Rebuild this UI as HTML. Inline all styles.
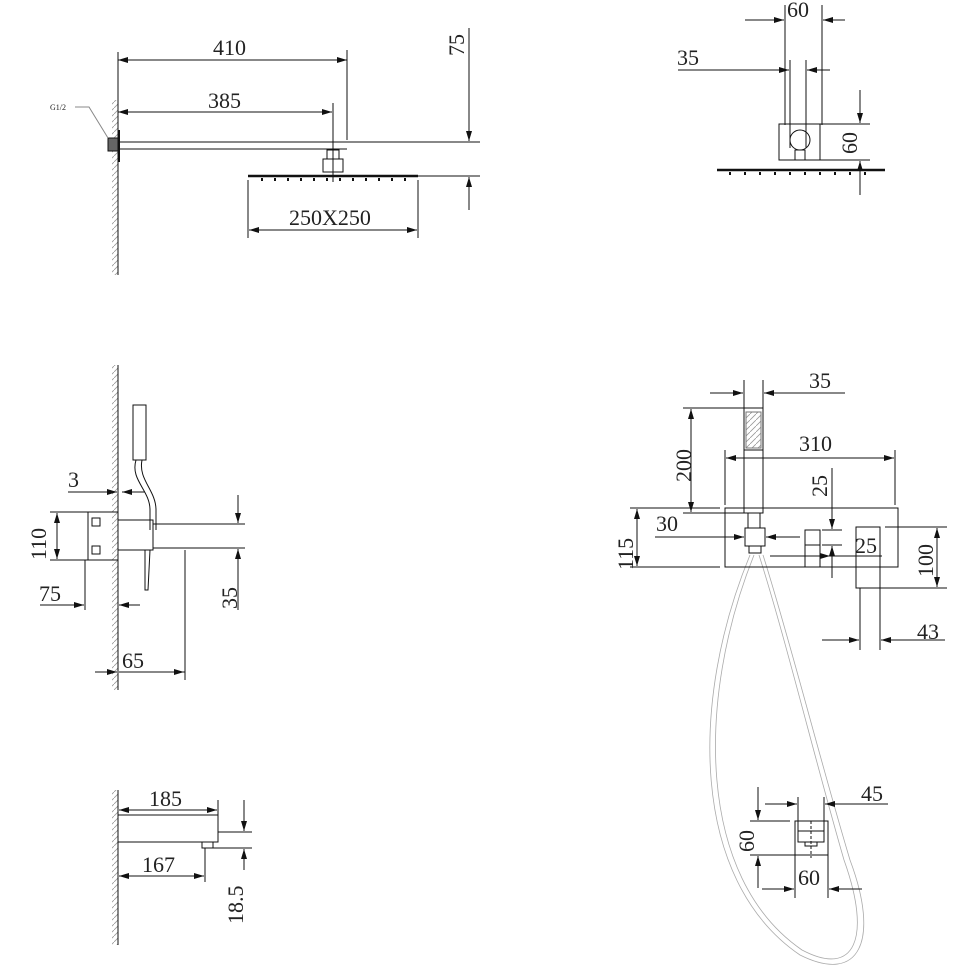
<!DOCTYPE html>
<html><head><style>html,body{margin:0;padding:0;background:#fff}svg{display:block}text{font-family:"Liberation Serif",serif;fill:#222}</style></head>
<body>
<svg width="974" height="974" viewBox="0 0 974 974" xmlns="http://www.w3.org/2000/svg">
<defs>
<marker id="a" viewBox="0 0 10 6" refX="10" refY="3" markerWidth="10" markerHeight="6" orient="auto-start-reverse" markerUnits="userSpaceOnUse">
<path d="M0,0 L10,3 L0,6z" fill="#111"/></marker>
<pattern id="h" width="6" height="6" patternUnits="userSpaceOnUse"><path d="M0,6 L6,0" stroke="#999" stroke-width="0.8"/></pattern>
</defs>
<g stroke="#111" stroke-width="1" fill="none">
<rect x="112" y="100" width="6" height="175" fill="url(#h)" stroke="none"/>
<line x1="118" y1="52" x2="118" y2="275"/>
<line x1="118" y1="60" x2="347" y2="60" marker-start="url(#a)" marker-end="url(#a)"/>
<line x1="347" y1="50" x2="347" y2="140"/>
<line x1="118" y1="112" x2="332" y2="112" marker-start="url(#a)" marker-end="url(#a)"/>
<line x1="333" y1="103" x2="333" y2="182"/>
<line x1="118" y1="142" x2="480" y2="142"/>
<line x1="118" y1="149" x2="347" y2="149"/>
<rect x="108" y="138" width="10" height="13" fill="#666"/>
<line x1="119" y1="130" x2="119" y2="162" stroke-width="2"/>
<polyline points="75,107 89,107 108,138" stroke="#888"/>
<rect x="327" y="150" width="12" height="9"/>
<rect x="323" y="159" width="20" height="13"/>
<line x1="248" y1="176" x2="418" y2="176" stroke-width="2.5"/>
<path d="M262,178v3M275,178v3M288,178v3M301,178v3M314,178v3M327,178v3M340,178v3M353,178v3M366,178v3M379,178v3M392,178v3M405,178v3" stroke-width="2"/>
<line x1="248" y1="180" x2="248" y2="238"/>
<line x1="418" y1="180" x2="418" y2="238"/>
<line x1="249" y1="230" x2="417" y2="230" marker-start="url(#a)" marker-end="url(#a)"/>
<line x1="418" y1="176" x2="480" y2="176"/>
<line x1="469" y1="28" x2="469" y2="141" marker-end="url(#a)"/>
<line x1="469" y1="210" x2="469" y2="177" marker-end="url(#a)"/>
<line x1="785" y1="5" x2="785" y2="125"/><line x1="822" y1="5" x2="822" y2="125"/>
<line x1="745" y1="20" x2="784" y2="20" marker-end="url(#a)"/>
<line x1="845" y1="20" x2="823" y2="20" marker-end="url(#a)"/>
<line x1="790" y1="60" x2="790" y2="148"/><line x1="806" y1="60" x2="806" y2="148"/>
<line x1="678" y1="70" x2="789" y2="70" marker-end="url(#a)"/>
<line x1="830" y1="70" x2="807" y2="70" marker-end="url(#a)"/>
<rect x="779" y="124" width="41" height="36"/>
<circle cx="800" cy="140" r="10"/><rect x="795" y="150" width="10" height="10"/>
<line x1="717" y1="170" x2="885" y2="170" stroke-width="2.5"/>
<path d="M730,172v3M745,172v3M760,172v3M775,172v3M790,172v3M805,172v3M820,172v3M835,172v3M850,172v3M865,172v3" stroke-width="2"/>
<line x1="820" y1="124" x2="870" y2="124"/><line x1="820" y1="160" x2="870" y2="160"/>
<line x1="860" y1="90" x2="860" y2="123" marker-end="url(#a)"/>
<line x1="860" y1="195" x2="860" y2="161" marker-end="url(#a)"/>
<rect x="112" y="365" width="6" height="325" fill="url(#h)" stroke="none"/>
<line x1="118" y1="365" x2="118" y2="690"/>
<rect x="133" y="405" width="13" height="55"/>
<path d="M136,460 C130,480 150,490 150,510 L150,530" />
<path d="M142,460 C138,480 156,490 156,510 L156,530" />
<rect x="88" y="512" width="30" height="48"/>
<rect x="92" y="518" width="8" height="8"/><rect x="92" y="546" width="8" height="8"/>
<rect x="118" y="520" width="35" height="30"/>
<path d="M145,550 L150,550 L148,590 L145,590z"/>
<line x1="153" y1="524" x2="245" y2="524"/><line x1="153" y1="548" x2="245" y2="548"/>
<line x1="238" y1="495" x2="238" y2="523" marker-end="url(#a)"/>
<line x1="238" y1="610" x2="238" y2="549" marker-end="url(#a)"/>
<line x1="50" y1="512" x2="88" y2="512"/><line x1="50" y1="560" x2="88" y2="560"/>
<line x1="57" y1="513" x2="57" y2="559" marker-start="url(#a)" marker-end="url(#a)"/>
<line x1="68" y1="492" x2="117" y2="492" marker-end="url(#a)"/>
<line x1="145" y1="492" x2="122" y2="492" marker-end="url(#a)"/>
<line x1="85" y1="560" x2="85" y2="610"/>
<line x1="40" y1="605" x2="84" y2="605" marker-end="url(#a)"/>
<line x1="140" y1="605" x2="119" y2="605" marker-end="url(#a)"/>
<line x1="185" y1="550" x2="185" y2="680"/>
<line x1="95" y1="672" x2="117" y2="672" marker-end="url(#a)"/>
<line x1="185" y1="672" x2="119" y2="672"/>
<line x1="130" y1="672" x2="184" y2="672" marker-end="url(#a)"/>
<rect x="112" y="790" width="6" height="155" fill="url(#h)" stroke="none"/>
<line x1="118" y1="790" x2="118" y2="945"/>
<line x1="119" y1="810" x2="217" y2="810" marker-start="url(#a)" marker-end="url(#a)"/>
<line x1="218" y1="800" x2="218" y2="815"/>
<rect x="118" y="815" width="100" height="27"/>
<rect x="202" y="842" width="11" height="6"/>
<line x1="205" y1="848" x2="205" y2="882"/>
<line x1="119" y1="876" x2="204" y2="876" marker-start="url(#a)" marker-end="url(#a)"/>
<line x1="218" y1="832" x2="252" y2="832"/><line x1="213" y1="848" x2="252" y2="848"/>
<line x1="244" y1="800" x2="244" y2="831" marker-end="url(#a)"/>
<line x1="244" y1="870" x2="244" y2="849" marker-end="url(#a)"/>
<path d="M750,555 C690,700 690,880 800,955 C860,985 880,940 850,860 C820,760 790,640 763,555" stroke="#aaa" stroke-width="0.8"/>
<path d="M754,555 C696,700 697,878 802,950 C855,978 872,938 844,860 C815,760 786,640 759,555" stroke="#aaa" stroke-width="0.8"/>
<rect x="744" y="408" width="19" height="42"/>
<rect x="746" y="412" width="15" height="36" fill="url(#h)" stroke="#777"/>
<rect x="744" y="450" width="19" height="63"/>
<rect x="748" y="513" width="12" height="15"/>
<line x1="744" y1="380" x2="744" y2="408"/><line x1="763" y1="380" x2="763" y2="408"/>
<line x1="710" y1="393" x2="743" y2="393" marker-end="url(#a)"/>
<line x1="845" y1="393" x2="764" y2="393" marker-end="url(#a)"/>
<line x1="683" y1="408" x2="744" y2="408"/><line x1="683" y1="513" x2="745" y2="513"/>
<line x1="691" y1="409" x2="691" y2="512" marker-start="url(#a)" marker-end="url(#a)"/>
<line x1="725" y1="450" x2="725" y2="505"/><line x1="895" y1="450" x2="895" y2="505"/>
<line x1="726" y1="458" x2="894" y2="458" marker-start="url(#a)" marker-end="url(#a)"/>
<rect x="725" y="508" width="173" height="59"/>
<line x1="630" y1="508" x2="720" y2="508"/><line x1="630" y1="567" x2="720" y2="567"/>
<line x1="637" y1="509" x2="637" y2="566" marker-start="url(#a)" marker-end="url(#a)"/>
<rect x="745" y="528" width="20" height="18"/><rect x="749" y="546" width="12" height="7"/>
<line x1="655" y1="537" x2="744" y2="537" marker-end="url(#a)"/>
<line x1="800" y1="537" x2="766" y2="537" marker-end="url(#a)"/>
<rect x="805" y="530" width="15" height="37"/><line x1="805" y1="545" x2="820" y2="545"/>
<line x1="822" y1="530" x2="842" y2="530"/><line x1="822" y1="545" x2="842" y2="545"/>
<line x1="832" y1="468" x2="832" y2="529" marker-end="url(#a)"/>
<line x1="832" y1="578" x2="832" y2="546" marker-end="url(#a)"/>
<line x1="770" y1="556" x2="830" y2="556" marker-end="url(#a)"/>
<line x1="830" y1="556" x2="882" y2="556"/>
<rect x="856" y="527" width="24" height="61"/>
<line x1="860" y1="588" x2="860" y2="650"/><line x1="880" y1="588" x2="880" y2="650"/>
<line x1="885" y1="527" x2="947" y2="527"/><line x1="862" y1="588" x2="947" y2="588"/>
<line x1="937" y1="528" x2="937" y2="587" marker-start="url(#a)" marker-end="url(#a)"/>
<line x1="822" y1="640" x2="859" y2="640" marker-end="url(#a)"/>
<line x1="945" y1="640" x2="881" y2="640" marker-end="url(#a)"/>
<rect x="795" y="821" width="33" height="34"/>
<rect x="798" y="831" width="26" height="11"/><rect x="805" y="842" width="12" height="4"/>
<line x1="811" y1="821" x2="811" y2="858" stroke-dasharray="3,2"/>
<line x1="798" y1="797" x2="798" y2="833"/><line x1="824" y1="797" x2="824" y2="833"/>
<line x1="765" y1="804" x2="797" y2="804" marker-end="url(#a)"/>
<line x1="888" y1="804" x2="825" y2="804" marker-end="url(#a)"/>
<line x1="750" y1="821" x2="790" y2="821"/><line x1="750" y1="855" x2="795" y2="855"/>
<line x1="758" y1="787" x2="758" y2="820" marker-end="url(#a)"/>
<line x1="758" y1="888" x2="758" y2="856" marker-end="url(#a)"/>
<line x1="795" y1="855" x2="795" y2="898"/><line x1="828" y1="855" x2="828" y2="898"/>
<line x1="762" y1="889" x2="794" y2="889" marker-end="url(#a)"/>
<line x1="862" y1="889" x2="829" y2="889" marker-end="url(#a)"/>
</g>
<g font-size="22">
<text x="213" y="55">410</text>
<text x="208" y="108">385</text>
<text x="289" y="225">250X250</text>
<text transform="translate(464,56) rotate(-90)">75</text>
<text x="50" y="110" font-size="8" fill="#666">G1/2</text>
<text x="787" y="17">60</text>
<text x="677" y="65">35</text>
<text transform="translate(857,154) rotate(-90)">60</text>
<text transform="translate(46,560) rotate(-90)">110</text>
<text x="68" y="487">3</text>
<text x="39" y="601">75</text>
<text transform="translate(237,609) rotate(-90)">35</text>
<text x="122" y="668">65</text>
<text x="149" y="806">185</text>
<text x="142" y="872">167</text>
<text transform="translate(243,924) rotate(-90)">18.5</text>
<text x="809" y="388">35</text>
<text transform="translate(691,482) rotate(-90)">200</text>
<text x="799" y="451">310</text>
<text transform="translate(827,497) rotate(-90)">25</text>
<text transform="translate(633,570) rotate(-90)">115</text>
<text x="656" y="531">30</text>
<text x="855" y="553">25</text>
<text transform="translate(933,577) rotate(-90)">100</text>
<text x="917" y="639">43</text>
<text x="861" y="801">45</text>
<text transform="translate(754,852) rotate(-90)">60</text>
<text x="798" y="885">60</text>
</g>
</svg>
</body></html>
